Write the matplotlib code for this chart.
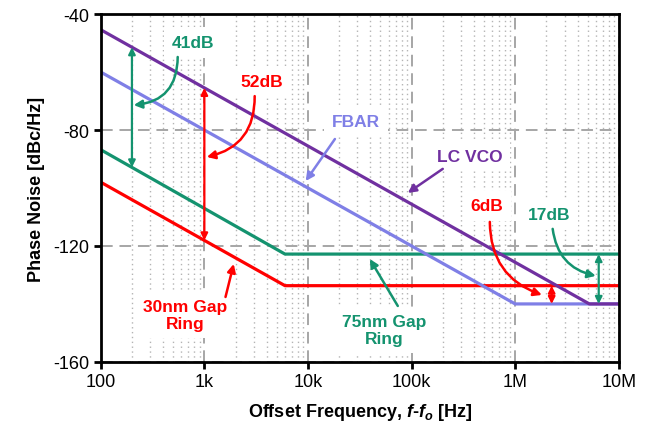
import numpy as np
import matplotlib
matplotlib.use("Agg")
import matplotlib.pyplot as plt
from matplotlib.ticker import FixedLocator, NullFormatter

plt.rcParams["font.family"] = ["Liberation Sans", "DejaVu Sans"]
plt.rcParams["mathtext.fontset"] = "custom"
plt.rcParams["mathtext.it"] = "Liberation Sans:bold:italic"
plt.rcParams["mathtext.rm"] = "Liberation Sans:bold"
plt.rcParams["axes.unicode_minus"] = False

# phase noise curves (breakpoints), Hz / dBc/Hz
lc_freq = [1e2, 5.2e6, 1e7]
lc_pn = [-45.4, -140.0, -140.0]
fbar_freq = [1e2, 1e6, 1e7]
fbar_pn = [-60.0, -140.0, -140.0]
gap75_freq = [1e2, 6e3, 1e7]
gap75_pn = [-86.8, -122.8, -122.8]
gap30_freq = [1e2, 6e3, 1e7]
gap30_pn = [-98.0, -133.7, -133.7]

x_ticks = [1e2, 1e3, 1e4, 1e5, 1e6, 1e7]
x_labels = ["100", "1k", "10k", "100k", "1M", "10M"]
y_ticks = [-40, -80, -120, -160]

C_LC = "#7030A0"
C_FBAR = "#7F7FE6"
C_75 = "#14936F"
C_30 = "#FF0000"


def pn_at(f, xs, ys):
    return float(np.interp(np.log10(f), np.log10(xs), ys))


fig = plt.figure(figsize=(6.5, 4.31), dpi=100)
ax = fig.add_axes([0.155, 0.158, 0.797, 0.807])

ax.plot(gap30_freq, gap30_pn, color=C_30, lw=2.3, zorder=4, solid_capstyle="butt")
ax.plot(gap75_freq, gap75_pn, color=C_75, lw=2.3, zorder=4, solid_capstyle="butt")
ax.plot(fbar_freq, fbar_pn, color=C_FBAR, lw=2.3, zorder=4, solid_capstyle="butt")
ax.plot(lc_freq, lc_pn, color=C_LC, lw=2.3, zorder=4, solid_capstyle="butt")

ax.set_xscale("log")
ax.set_xlim(1e2, 1e7)
ax.set_ylim(-160, -40)
ax.xaxis.set_major_locator(FixedLocator(x_ticks))
ax.set_xticklabels(x_labels)
ax.xaxis.set_minor_locator(FixedLocator(
    [m * d for d in [1e2, 1e3, 1e4, 1e5, 1e6] for m in range(2, 10)]))
ax.xaxis.set_minor_formatter(NullFormatter())
ax.set_yticks(y_ticks)
ax.tick_params(axis="both", which="major", direction="out", length=5, width=2,
               labelsize=13, pad=3)
ax.tick_params(axis="x", which="minor", length=0)
ax.grid(True, which="major", axis="both", color="#A6A6A6", ls=(0, (6, 3.5)), lw=1.4)
ax.grid(True, which="minor", axis="x", color="#B4B4B4", ls=(0, (1, 2.5)), lw=1.0)
ax.set_axisbelow(True)
for sp in ax.spines.values():
    sp.set_linewidth(2)
    sp.set_zorder(6)

ax.set_xlabel(r"Offset Frequency, $f$-$f_o$ [Hz]", fontsize=13, fontweight="bold",
              labelpad=8)
ax.set_ylabel("Phase Noise [dBc/Hz]", fontsize=13, fontweight="bold", labelpad=6)

# double-headed span arrows between curves
spans = [
    (200, lc_freq, lc_pn, gap75_freq, gap75_pn, C_75),
    (1e3, lc_freq, lc_pn, gap30_freq, gap30_pn, C_30),
    (2.25e6, gap30_freq, gap30_pn, fbar_freq, fbar_pn, C_30),
    (6.4e6, gap75_freq, gap75_pn, fbar_freq, fbar_pn, C_75),
]
for f, xa, ya, xb, yb, c in spans:
    ax.annotate("", xy=(f, pn_at(f, xa, ya)), xytext=(f, pn_at(f, xb, yb)),
                arrowprops=dict(arrowstyle="<|-|>", color=c, lw=1.6,
                                mutation_scale=10, shrinkA=0, shrinkB=0),
                zorder=5)

box = dict(boxstyle="square,pad=0.45", fc="white", ec="none")
labels = [
    ("41dB", (770, -49.7), (553, -54.8), (208, -71.4), C_75, -0.45),
    ("52dB", (3600, -63.4), (3060, -68.3), (1055, -89.3), C_30, -0.4),
    ("FBAR", (28900, -76.9), (18200, -83.1), (9500, -97.6), C_FBAR, 0.0),
    ("LC VCO", (365000, -89.0), (200000, -93.4), (91800, -101.7), C_LC, 0.0),
    ("6dB", (532000, -106.2), (569000, -111.7), (1.81e6, -136.9), C_30, 0.35),
    ("17dB", (2.11e6, -109.3), (2.3e6, -114.1), (6.0e6, -130.3), C_75, 0.35),
    ("30nm Gap\nRing", (647, -143.8), (1600, -137.6), (1920, -126.2), C_30, 0.0),
    ("75nm Gap\nRing", (55000, -149.0), (73600, -140.7), (39500, -124.5), C_75, 0.0),
]
for txt, pos, tail, head, c, rad in labels:
    ax.text(pos[0], pos[1], txt, color=c, fontsize=12.5, fontweight="bold",
            ha="center", va="center", bbox=box, zorder=3, linespacing=1.1)
    ax.annotate("", xy=head, xytext=tail,
                arrowprops=dict(arrowstyle="-|>", color=c, lw=1.8,
                                mutation_scale=12, shrinkA=0, shrinkB=0,
                                connectionstyle=f"arc3,rad={rad}"),
                zorder=5)

fig.savefig("out.png", dpi=100)
